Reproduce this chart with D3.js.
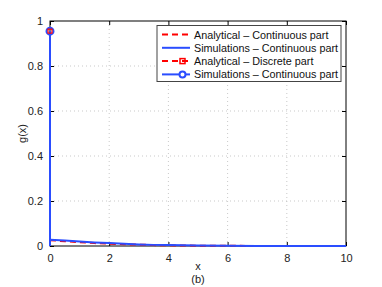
<!DOCTYPE html>
<html>
<head>
<meta charset="utf-8">
<script src="https://cdn.jsdelivr.net/npm/d3@7"></script>
<style>
  body { margin: 0; background: #fff; }
  text { font-family: "Liberation Sans", Arial, sans-serif; }
</style>
</head>
<body>
<script>
// data
var xs = [0, 0.5, 1, 1.5, 2, 2.5, 3, 3.5, 4, 5, 6, 7, 8, 9, 10];
var analyticCont = [0.026, 0.021, 0.017, 0.013, 0.010, 0.008, 0.006, 0.004, 0.003, 0.0015, 0.0008, 0.0004, 0.0002, 0.0001, 0];
var simCont = [0.028, 0.024, 0.020, 0.016, 0.013, 0.010, 0.007, 0.005, 0.004, 0.002, 0.001, 0.0005, 0.0002, 0.0001, 0];
var discreteX = [0];
var discreteY = [0.955];
var xTicks = [0, 2, 4, 6, 8, 10];
var yTicks = [0, 0.2, 0.4, 0.6, 0.8, 1];
var legendLabels = ["Analytical \u2013 Continuous part", "Simulations \u2013 Continuous part",
                    "Analytical \u2013 Discrete part", "Simulations \u2013 Continuous part"];

var red = "#ff0000", blue = "#2a4dff";

var svg = d3.select("body")
            .append("svg")
            .attr("width", 382)
            .attr("height", 287);

var pl = 50, pr = 346, pt = 21, pb = 246;

var x = d3.scaleLinear().domain([0, 10]).range([pl, pr]);
var y = d3.scaleLinear().domain([0, 1]).range([pb, pt]);

// grid
svg.selectAll(".gx").data(xTicks.slice(1, -1)).enter().append("line")
    .attr("x1", d => x(d)).attr("x2", d => x(d))
    .attr("y1", pt).attr("y2", pb)
    .attr("stroke", "#bbb").attr("stroke-width", 0.8)
    .attr("stroke-dasharray", "1,3");
svg.selectAll(".gy").data(yTicks.slice(1, -1)).enter().append("line")
    .attr("x1", pl).attr("x2", pr)
    .attr("y1", d => y(d)).attr("y2", d => y(d))
    .attr("stroke", "#bbb").attr("stroke-width", 0.8)
    .attr("stroke-dasharray", "1,3");

// box + ticks
svg.append("rect")
    .attr("x", pl).attr("y", pt)
    .attr("width", pr - pl).attr("height", pb - pt)
    .attr("fill", "none").attr("stroke", "#000").attr("stroke-width", 1);

var xAxis = d3.axisBottom(x).tickValues(xTicks).tickSizeInner(-4).tickSizeOuter(0).tickPadding(8);
var yAxis = d3.axisLeft(y).tickValues(yTicks).tickSizeInner(-4).tickSizeOuter(0).tickPadding(7)
    .tickFormat(d => d === 0 ? "0" : d === 1 ? "1" : d3.format(".1f")(d));

svg.append("g").attr("transform", "translate(0," + pb + ")").call(xAxis);
svg.append("g").attr("transform", "translate(" + pl + ",0)").call(yAxis);
svg.append("g").attr("transform", "translate(0," + pt + ")")
    .call(d3.axisTop(x).tickValues(xTicks).tickSizeInner(-4).tickSizeOuter(0).tickFormat(""));
svg.append("g").attr("transform", "translate(" + pr + ",0)")
    .call(d3.axisRight(y).tickValues(yTicks).tickSizeInner(-4).tickSizeOuter(0).tickFormat(""));

svg.selectAll(".domain").remove();
svg.selectAll(".tick text").attr("font-size", 11).attr("fill", "#222")
    .attr("font-family", "Liberation Sans, Arial, sans-serif");

// curves
var line = d3.line().x((d, i) => x(xs[i])).y(d => y(d));

svg.append("path").datum(analyticCont)
    .attr("d", line).attr("fill", "none")
    .attr("stroke", red).attr("stroke-width", 2)
    .attr("stroke-dasharray", "6,4");
svg.append("path").datum(simCont)
    .attr("d", line).attr("fill", "none")
    .attr("stroke", blue).attr("stroke-width", 2);

// discrete part (stem at x=0)
svg.selectAll(".stem").data(discreteX).enter().append("line")
    .attr("x1", d => x(d)).attr("x2", d => x(d))
    .attr("y1", y(0)).attr("y2", (d, i) => y(discreteY[i]))
    .attr("stroke", blue).attr("stroke-width", 2);
svg.selectAll(".dcirc").data(discreteX).enter().append("circle")
    .attr("cx", d => x(d)).attr("cy", (d, i) => y(discreteY[i]))
    .attr("r", 3.5).attr("fill", "none")
    .attr("stroke", blue).attr("stroke-width", 2);
svg.selectAll(".dsq").data(discreteX).enter().append("rect")
    .attr("x", d => x(d) - 2).attr("y", (d, i) => y(discreteY[i]) - 2)
    .attr("width", 4).attr("height", 4)
    .attr("fill", "none").attr("stroke", red).attr("stroke-width", 1.2);

// labels
svg.append("text").attr("x", x(5)).attr("y", 270)
    .attr("text-anchor", "middle").attr("font-size", 11).attr("fill", "#222").text("x");
svg.append("text").attr("x", x(5)).attr("y", 283)
    .attr("text-anchor", "middle").attr("font-size", 11).attr("fill", "#222").text("(b)");
svg.append("text")
    .attr("transform", "translate(26," + y(0.5) + ") rotate(-90)")
    .attr("text-anchor", "middle").attr("font-size", 11).attr("fill", "#222").text("g(x)");

// legend
var lg = svg.append("g");
lg.append("rect").attr("x", 157).attr("y", 25.5).attr("width", 184).attr("height", 56)
    .attr("fill", "#fff").attr("stroke", "#444").attr("stroke-width", 1);

var rows = lg.selectAll(".row").data(legendLabels).enter().append("g")
    .attr("transform", (d, i) => "translate(0," + (34.5 + i * 13.3) + ")");
rows.append("line")
    .attr("x1", 162).attr("x2", 190).attr("y1", 0).attr("y2", 0)
    .attr("stroke", (d, i) => i % 2 === 0 ? red : blue)
    .attr("stroke-width", 2)
    .attr("stroke-dasharray", (d, i) => i % 2 === 0 ? "6,4" : null);
rows.append("text")
    .attr("x", 194).attr("y", 4)
    .attr("font-size", 10.8).attr("fill", "#111")
    .text(d => d);
rows.filter((d, i) => i === 2).append("rect")
    .attr("x", 180).attr("y", -2.5).attr("width", 5).attr("height", 5)
    .attr("fill", "none").attr("stroke", red).attr("stroke-width", 1.5);
rows.filter((d, i) => i === 3).append("circle")
    .attr("cx", 182.5).attr("cy", 0).attr("r", 3)
    .attr("fill", "#fff").attr("stroke", blue).attr("stroke-width", 2);
</script>
</body>
</html>
